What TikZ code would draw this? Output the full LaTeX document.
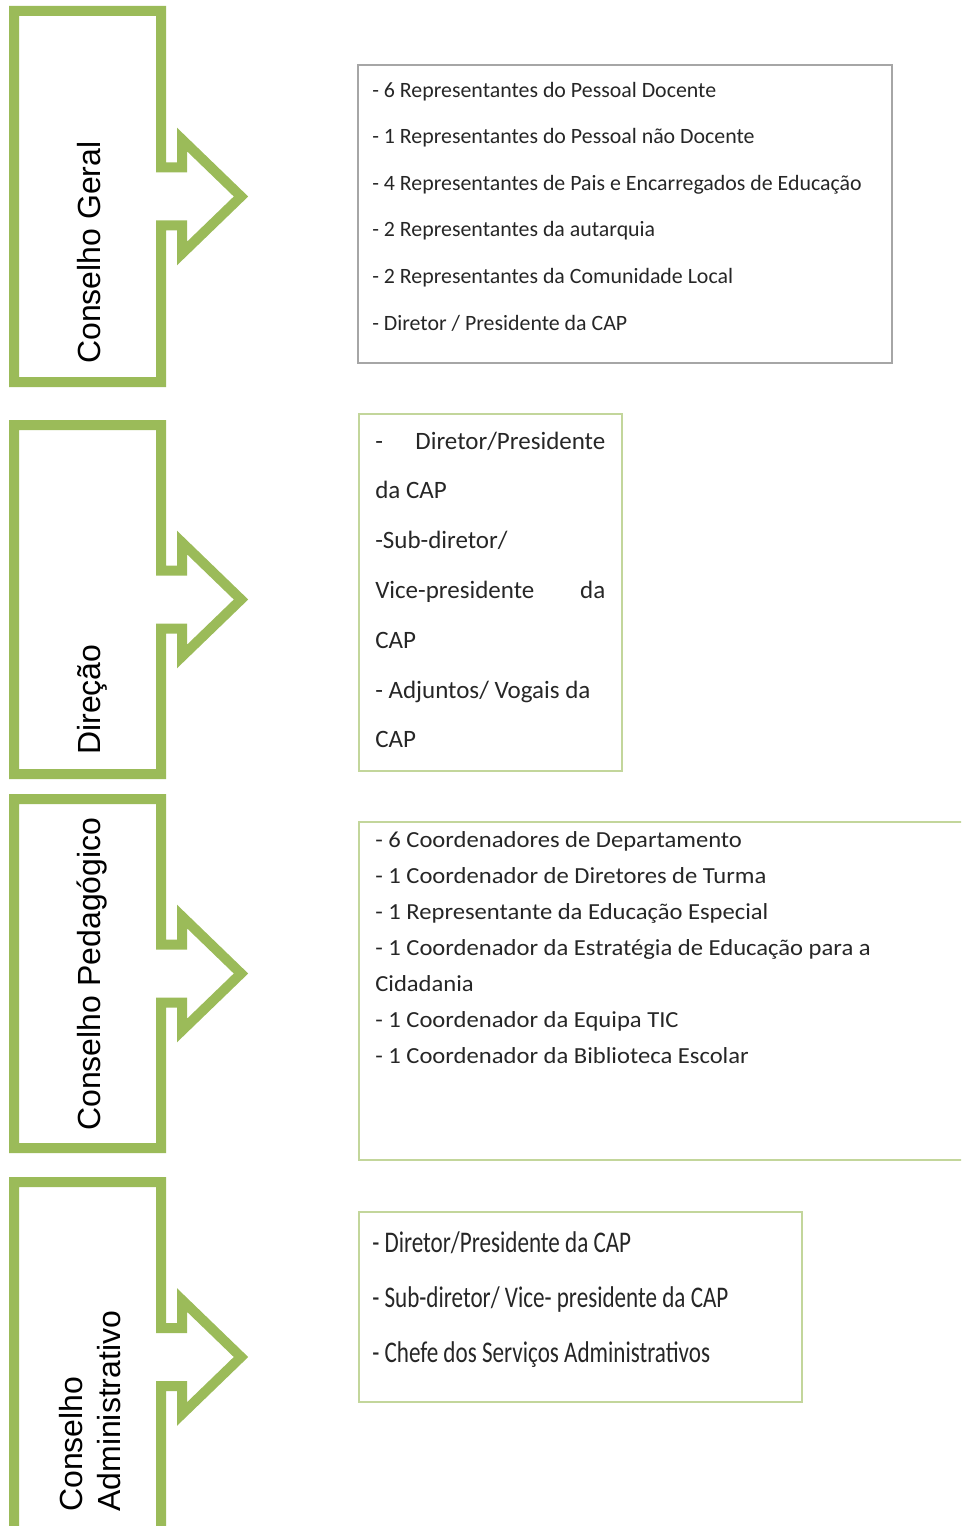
\documentclass[tikz,border=0pt]{standalone}
\usepackage{fontspec}
\setmainfont{Liberation Sans}
\newfontfamily\calfont{Carlito}
\newfontfamily\calnarrow[FakeStretch=0.77]{Carlito}
\newfontfamily\calwide[FakeStretch=1.07]{Carlito}
\usetikzlibrary{positioning}
\definecolor{olive}{HTML}{9BBB59}
\definecolor{paleolive}{HTML}{C3D69B}
\definecolor{framegray}{HTML}{A6A6A6}

\begin{document}
\begin{tikzpicture}[
x=0.75pt,y=-0.75pt,
bigarrow/.style={
	draw=olive,
	line width=7.5pt,
	line join=miter
},
panel/.style={
	draw=paleolive,
	line width=1.2pt
},
graypanel/.style={
	draw=framegray,
	line width=1.2pt
},
organ/.style={
	rotate=90,
	anchor=base west,
	inner sep=0pt,
	align=left,
	font=\fontsize{24}{28.5}\selectfont
},
members/.style={
	anchor=base west,
	inner sep=0pt,
	align=flush left,
	text=black!85
}
]
\useasboundingbox (0,0) rectangle (961,1526);
\clip (0,0) rectangle (961,1526);

\foreach \ya/\yb in {11/382, 425/774, 799/1148, 1182/1532}{
\pgfmathsetmacro{\ym}{(\ya+\yb)/2}
\draw[bigarrow] (14,\ya) -- (161,\ya) -- (161,\ym-29) -- (182,\ym-29) -- (182,\ym-57)
	-- (241,\ym) -- (182,\ym+57) -- (182,\ym+29) -- (161,\ym+29) -- (161,\yb)
	-- (14,\yb) -- cycle;
}

% base of a node with several lines = its last line
\node[organ] (geral) at (100,364) {Conselho Geral};
\node[organ] (direcao) at (100,755) {Direção};
\node[organ] (pedagogico) at (100,1131) {Conselho Pedagógico};
\node[organ] (administrativo) at (120,1512) {Conselho\\Administrativo};

\draw[graypanel] (358,65) rectangle (892,363);
\draw[panel] (359,414) rectangle (622,771);
\draw[panel] (359,822) rectangle (990,1160);
\draw[panel] (359,1212) rectangle (802,1402);

\node[members,font=\calfont\fontsize{16.4}{34.95}\selectfont] (geralmembros) at (372,330) {%
- 6 Representantes do Pessoal Docente\\
- 1 Representantes do Pessoal não Docente\\
- 4 Representantes de Pais e Encarregados de Educação\\
- 2 Representantes da autarquia\\
- 2 Representantes da Comunidade Local\\
- Diretor / Presidente da CAP};

\node[members,text width=172.5pt,font=\calfont\fontsize{18.75}{37.35}\selectfont] (direcaomembros) at (375,449) {%
-\hfill Diretor/Presidente\\
da CAP\\
-Sub-diretor/\\
Vice-presidente\hfill da\\
CAP\\
- Adjuntos/ Vogais da\\
CAP};

\node[members,font=\calwide\fontsize{17.25}{26.9}\selectfont] (pedagogicomembros) at (375,1063) {%
- 6 Coordenadores de Departamento\\
- 1 Coordenador de Diretores de Turma\\
- 1 Representante da Educação Especial\\
- 1 Coordenador da Estratégia de Educação para a\\
Cidadania\\
- 1 Coordenador da Equipa TIC\\
- 1 Coordenador da Biblioteca Escolar};

\node[members,font=\calnarrow\fontsize{22.5}{41.25}\selectfont] (administrativomembros) at (372,1362) {%
- Diretor/Presidente da CAP\\
- Sub-diretor/ Vice- presidente da CAP\\
- Chefe dos Serviços Administrativos};
\end{tikzpicture}
\end{document}
